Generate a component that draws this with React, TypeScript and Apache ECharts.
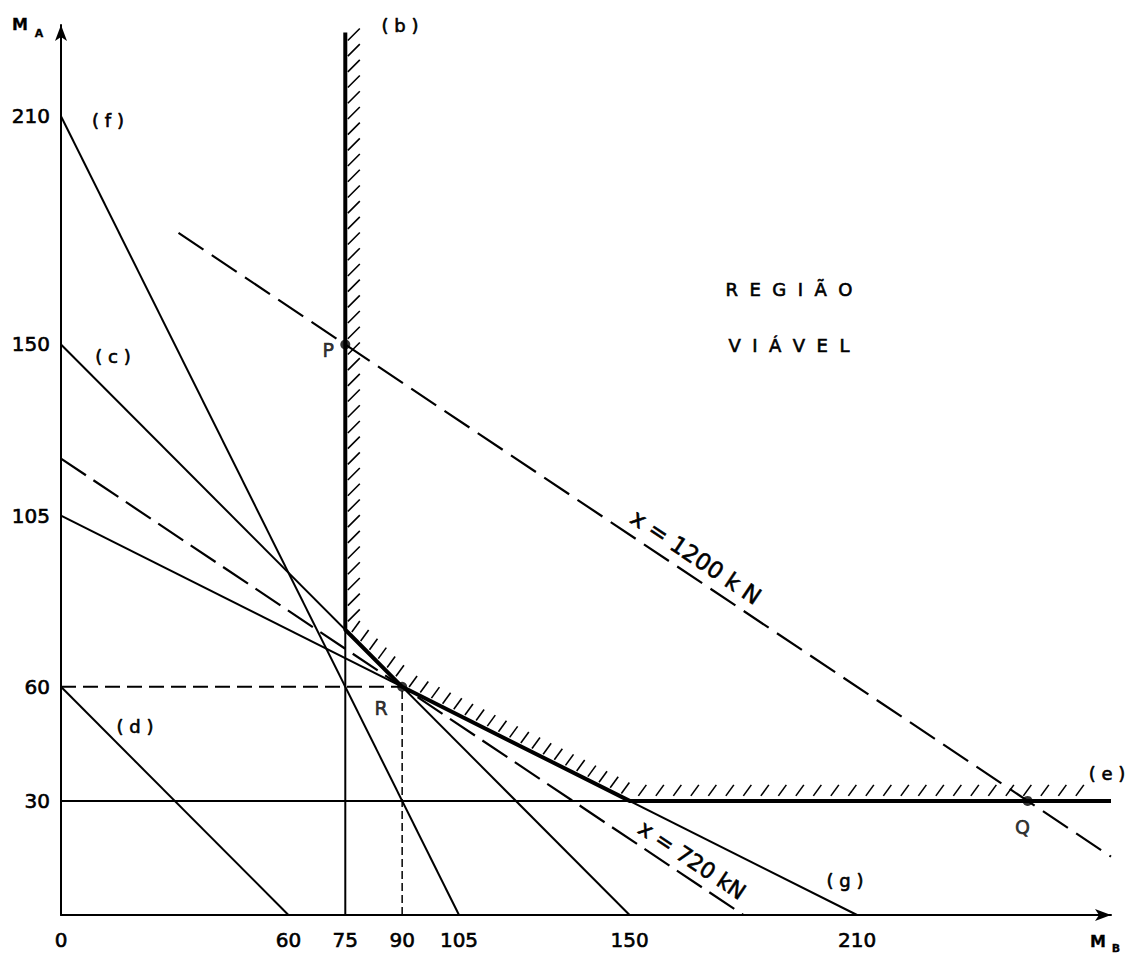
import React, { useEffect, useRef } from "react";
import * as echarts from "echarts";

// ---- data (M_B on x, M_A on y) ----
const xTickLabels = [0, 60, 75, 90, 105, 150, 210];
const yTickLabels = [30, 60, 105, 150, 210];

const lineF = [[0, 210], [105, 0]];          // (f)
const lineC = [[0, 150], [150, 0]];          // (c)
const lineD = [[0, 60], [60, 0]];            // (d)
const lineG = [[0, 105], [210, 0]];          // (g)
const lineE = [[0, 30], [150, 30]];          // (e) thin part
const lineB = [[75, 0], [75, 75]];           // (b) thin part
const boundary = [[75, 232], [75, 75], [90, 60], [150, 30], [277, 30]];
const hatchSegments = [
  [75, 232, 75, 75],
  [75, 75, 90, 60],
  [90, 60, 150, 30],
  [150, 30, 272, 30],
];
const line1200 = [[31, 179.33], [277, 15.33]];
const line720 = [[0, 120], [180, 0]];
const guide60 = [[0, 60], [90, 60]];
const guide90 = [[90, 0], [90, 60]];
const points = [
  { name: "P", value: [75, 150] },
  { name: "R", value: [90, 60] },
  { name: "Q", value: [255, 30] },
];

const FONT = "DejaVu Sans";
const INK = "#000";
const PEN = 0.6; // extra stroke to mimic pen lettering

export default function App() {
  const ref = useRef<HTMLDivElement>(null);
  useEffect(() => {
    if (!ref.current) return;
    const chart = echarts.init(ref.current, null, { renderer: "svg" });

    const thin = (data: number[][]) => ({
      type: "line",
      data,
      showSymbol: false,
      silent: true,
      lineStyle: { color: INK, width: 2 },
      z: 2,
    });
    const dashed = (data: number[][], w: number, dash: number[]) => ({
      type: "line",
      data,
      showSymbol: false,
      silent: true,
      lineStyle: { color: INK, width: w, type: dash },
      z: 2,
    });

    const labelOffsets: Record<string, number[]> = {
      P: [-17, 6],
      R: [-21, 21],
      Q: [-5, 26],
    };

    const txt = (text: string, x: number, y: number, size: number, extra: any = {}) => ({
      type: "text",
      x,
      y,
      ...(extra.rotation !== undefined ? { rotation: extra.rotation } : {}),
      style: {
        text,
        fill: INK,
        stroke: INK,
        lineWidth: extra.bold ? 0.3 : PEN,
        font: `${extra.bold ? "bold " : ""}${size}px "${FONT}"`,
        align: "center",
        verticalAlign: "middle",
      },
      z: 10,
    });

    const axisLabelStyle = {
      color: INK,
      fontFamily: FONT,
      fontSize: 20,
      textBorderColor: INK,
      textBorderWidth: PEN,
      showMaxLabel: false,
    };

    chart.setOption({
      animation: false,
      backgroundColor: "#fff",
      grid: { left: 61, top: 25, width: 1050, height: 890, containLabel: false },
      xAxis: {
        type: "value",
        min: 0,
        max: 277,
        interval: 15,
        axisLine: {
          show: true,
          onZero: false,
          symbol: ["none", "arrow"],
          symbolSize: [9, 16],
          lineStyle: { color: INK, width: 2 },
        },
        axisTick: { show: false },
        splitLine: { show: false },
        axisLabel: {
          ...axisLabelStyle,
          margin: 15,
          formatter: (v: number) => (xTickLabels.includes(v) ? String(v) : ""),
        },
      },
      yAxis: {
        type: "value",
        min: 0,
        max: 234,
        interval: 15,
        axisLine: {
          show: true,
          onZero: false,
          symbol: ["none", "arrow"],
          symbolSize: [9, 16],
          lineStyle: { color: INK, width: 2 },
        },
        axisTick: { show: false },
        splitLine: { show: false },
        axisLabel: {
          ...axisLabelStyle,
          margin: 11,
          formatter: (v: number) => (yTickLabels.includes(v) ? String(v) : ""),
        },
      },
      series: [
        thin(lineF),
        thin(lineC),
        thin(lineD),
        thin(lineG),
        thin(lineE),
        thin(lineB),
        {
          type: "line",
          data: boundary,
          showSymbol: false,
          silent: true,
          lineStyle: { color: INK, width: 4, join: "round" },
          z: 3,
        },
        dashed(line1200, 2.2, [30, 10]),
        dashed(line720, 2.2, [30, 9]),
        dashed(guide60, 2, [15, 7]),
        dashed(guide90, 1.5, [8, 4]),
        {
          type: "custom",
          coordinateSystem: "cartesian2d",
          silent: true,
          clip: false,
          data: hatchSegments,
          encode: { x: [0, 2], y: [1, 3] },
          renderItem: (params: any, api: any) => {
            const p1 = api.coord([api.value(0), api.value(1)]);
            const p2 = api.coord([api.value(2), api.value(3)]);
            const dx = p2[0] - p1[0];
            const dy = p2[1] - p1[1];
            const L = Math.hypot(dx, dy);
            const vertical = Math.abs(dx) < 1;
            const horizontal = Math.abs(dy) < 1;
            const spacing = vertical ? 15.7 : horizontal ? 17.5 : 12.5;
            const gap = vertical ? 2.5 : horizontal ? 5 : 3;
            const vec = vertical ? [12, -12] : [8, -11];
            const nx = dy / L;
            const ny = -dx / L;
            const n = Math.floor(L / spacing);
            const children: any[] = [];
            for (let k = 0; k < n; k++) {
              const t = ((k + 0.5) * spacing) / L;
              const bx = p1[0] + dx * t + nx * gap;
              const by = p1[1] + dy * t + ny * gap;
              children.push({
                type: "line",
                shape: { x1: bx, y1: by, x2: bx + vec[0], y2: by + vec[1] },
                style: { stroke: INK, lineWidth: 1.6 },
              });
            }
            return { type: "group", children };
          },
          z: 4,
        },
        {
          type: "scatter",
          data: points,
          symbolSize: 10,
          itemStyle: { color: INK },
          silent: true,
          z: 5,
          label: {
            show: true,
            position: "inside",
            formatter: (p: any) => p.name,
            color: INK,
            fontFamily: FONT,
            fontSize: 19,
            textBorderColor: INK,
            textBorderWidth: PEN,
          },
          labelLayout: (p: any) => {
            const name = points[p.dataIndex].name;
            const o = labelOffsets[name];
            return { dx: o[0], dy: o[1] };
          },
        },
      ],
      graphic: [
        txt("M", 20, 24, 16, { bold: true }),
        txt("A", 39, 33, 11, { bold: true }),
        txt("M", 1098, 941, 16, { bold: true }),
        txt("B", 1116, 948, 11, { bold: true }),
        txt("( b )", 400, 25, 18),
        txt("( f )", 108, 120, 18),
        txt("( c )", 113, 356, 18),
        txt("( d )", 135, 726, 18),
        txt("( e )", 1107, 773, 18),
        txt("( g )", 845, 880, 18),
        txt("R  E  G  I  Ã  O", 789, 289, 18),
        txt("V  I  Á  V  E  L", 789, 345, 18),
        txt("x = 1200 k N", 696, 557, 23, { rotation: -0.59 }),
        txt("x = 720 kN", 692, 860, 22, { rotation: -0.59 }),
      ],
    });
    return () => chart.dispose();
  }, []);
  return (
    <div
      ref={ref}
      style={{ position: "absolute", left: 0, top: 0, width: 1126, height: 954, background: "#fff" }}
    />
  );
}
